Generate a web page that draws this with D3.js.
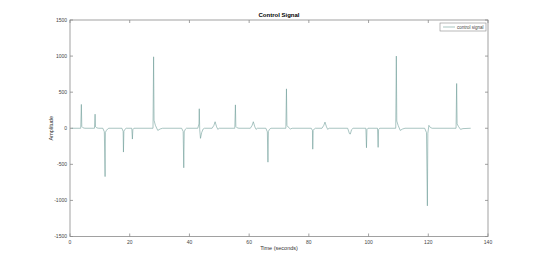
<!DOCTYPE html>
<html>
<head>
<meta charset="utf-8">
<script src="https://cdn.jsdelivr.net/npm/d3@7/dist/d3.min.js"></script>
<style>
  body { margin: 0; background: #fff; }
  text { font-family: "Liberation Sans", Arial, sans-serif; }
</style>
</head>
<body>
<svg id="chart" width="540" height="267"></svg>
<script>
// control signal (seconds, amplitude)
var timeSec = [
  0.5, 3.6, 3.8, 3.95, 4.4, 5.0,
  8.2, 8.4, 8.55, 9.0, 9.6,
  11.0, 11.5, 11.75, 11.85, 12.1, 12.6, 13.0,
  17.4, 17.8, 17.9, 18.05, 18.4, 18.8,
  20.7, 20.9, 21.05, 21.4,
  27.8, 28.0, 28.15, 28.6, 29.4, 30.2, 31.0,
  37.4, 37.9, 38.1, 38.25, 38.6, 39.0,
  42.8, 43.2, 43.3, 43.45, 43.7, 44.1, 44.6, 45.0,
  47.6, 48.2, 48.6, 49.1, 49.5, 50.0,
  55.2, 55.4, 55.55, 56.0, 56.6,
  60.4, 61.0, 61.4, 61.9, 62.3, 62.8,
  65.6, 66.1, 66.3, 66.45, 66.8, 67.3,
  72.3, 72.5, 72.65, 73.1, 73.8, 74.4,
  80.8, 81.2, 81.3, 81.45, 81.8, 82.2,
  84.4, 85.0, 85.4, 85.9, 86.3, 86.8,
  93.0, 93.6, 93.9, 94.3, 94.8,
  99.1, 99.3, 99.45, 99.8,
  103.0, 103.2, 103.35, 103.7,
  109.1, 109.3, 109.45, 109.9, 110.6, 111.4, 112.2,
  118.8, 119.4, 119.7, 119.85, 120.2, 120.7, 121.3,
  129.3, 129.5, 129.65, 130.1, 130.8, 131.6, 134.2
];
var amplitude = [
  0, 0, 330, 25, 5, 0,
  0, 195, 20, 5, 0,
  0, -50, -670, -60, -35, -10, 0,
  0, -45, -330, -40, -15, 0,
  0, -150, -20, 0,
  0, 990, 110, 40, -30, -10, 0,
  0, -45, -548, -50, -15, 0,
  0, 60, 270, -20, -140, -60, -10, 0,
  0, 40, 90, 20, -15, 0,
  0, 324, 25, 5, 0,
  0, 40, 90, 20, -15, 0,
  0, -50, -470, -45, -15, 0,
  0, 546, 40, 15, -10, 0,
  0, -30, -290, -30, -10, 0,
  0, 40, 85, 20, -15, 0,
  0, -75, -80, -20, 0,
  0, -270, -20, 0,
  0, -265, -20, 0,
  0, 1000, 100, 40, -30, -10, 0,
  0, -60, -1075, -70, 40, 10, 0,
  0, 620, 60, 25, -15, -5, 0
];
var xTicks = [0, 20, 40, 60, 80, 100, 120, 140];
var yTicks = [-1500, -1000, -500, 0, 500, 1000, 1500];

var svg = d3.select('#chart');
var plotLeft = 70, plotRight = 488, plotTop = 20, plotBottom = 236.5;
var axisColor = '#8a8a8a', lineColor = '#6f9e98';

var x = d3.scaleLinear().domain([0, 140]).range([plotLeft, plotRight]);
var y = d3.scaleLinear().domain([-1500, 1500]).range([plotBottom, plotTop]);

// box
svg.append('rect')
    .attr('x', plotLeft).attr('y', plotTop)
    .attr('width', plotRight - plotLeft).attr('height', plotBottom - plotTop)
    .attr('fill', '#fff')
    .attr('stroke', axisColor).attr('stroke-width', 0.8);

// inward ticks on all four sides
var tick = 3;
svg.selectAll('.xt').data(xTicks).enter().append('path')
    .attr('d', function(d) {
        return 'M' + x(d) + ',' + plotBottom + 'v' + (-tick) + 'M' + x(d) + ',' + plotTop + 'v' + tick;
    })
    .attr('stroke', axisColor).attr('stroke-width', 0.8);
svg.selectAll('.yt').data(yTicks).enter().append('path')
    .attr('d', function(d) {
        return 'M' + plotLeft + ',' + y(d) + 'h' + tick + 'M' + plotRight + ',' + y(d) + 'h' + (-tick);
    })
    .attr('stroke', axisColor).attr('stroke-width', 0.8);

svg.selectAll('.xl').data(xTicks).enter().append('text')
    .attr('x', function(d) { return x(d); })
    .attr('y', plotBottom + 7)
    .attr('text-anchor', 'middle')
    .attr('font-size', 5)
    .attr('fill', '#444')
    .text(function(d) { return d; });

svg.selectAll('.yl').data(yTicks).enter().append('text')
    .attr('x', plotLeft - 3)
    .attr('y', function(d) { return y(d) + 1.7; })
    .attr('text-anchor', 'end')
    .attr('font-size', 5)
    .attr('fill', '#444')
    .text(function(d) { return d; });

// signal
var line = d3.line()
    .x(function(d, i) { return x(timeSec[i]); })
    .y(function(d) { return y(d); });

svg.append('path')
    .datum(amplitude)
    .attr('d', line)
    .attr('fill', 'none')
    .attr('stroke', lineColor)
    .attr('stroke-width', 0.6);

// titles
svg.append('text')
    .attr('x', (plotLeft + plotRight) / 2).attr('y', 17)
    .attr('text-anchor', 'middle')
    .attr('font-size', 6).attr('font-weight', 'bold')
    .attr('fill', '#000')
    .text('Control Signal');

svg.append('text')
    .attr('x', (plotLeft + plotRight) / 2).attr('y', 250)
    .attr('text-anchor', 'middle')
    .attr('font-size', 5.5)
    .attr('fill', '#333')
    .text('Time (seconds)');

svg.append('text')
    .attr('transform', 'translate(53,' + y(0) + ') rotate(-90)')
    .attr('text-anchor', 'middle')
    .attr('font-size', 5.5)
    .attr('fill', '#333')
    .text('Amplitude');

// legend
var lg = svg.append('g').attr('transform', 'translate(440,23)');
lg.append('rect')
    .attr('width', 46).attr('height', 8)
    .attr('fill', '#fff')
    .attr('stroke', axisColor).attr('stroke-width', 0.6);
lg.append('line')
    .attr('x1', 3).attr('x2', 15).attr('y1', 4).attr('y2', 4)
    .attr('stroke', lineColor).attr('stroke-width', 0.6);
lg.append('text')
    .attr('x', 17).attr('y', 5.6)
    .attr('font-size', 4.5)
    .attr('fill', '#444')
    .text('control signal');
</script>
</body>
</html>
